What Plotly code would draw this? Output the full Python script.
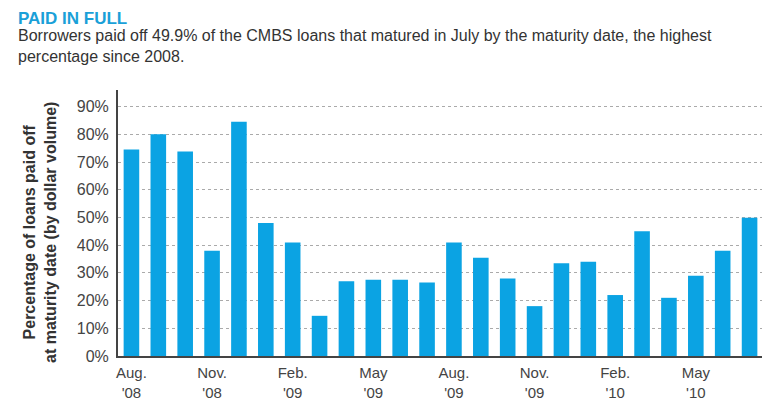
import plotly.graph_objects as go

months = ["Aug. '08","Sep. '08","Oct. '08","Nov. '08","Dec. '08","Jan. '09","Feb. '09","Mar. '09","Apr. '09","May '09","Jun. '09","Jul. '09",
          "Aug. '09","Sep. '09","Oct. '09","Nov. '09","Dec. '09","Jan. '10","Feb. '10","Mar. '10","Apr. '10","May '10","Jun. '10","Jul. '10"]
values = [74.5, 80, 73.8, 38, 84.5, 48, 41, 14.5, 27, 27.5, 27.5, 26.5,
          41, 35.5, 28, 18, 33.5, 34, 22, 45, 21, 29, 38, 49.9]
tick_vals = ["Aug. '08","Nov. '08","Feb. '09","May '09","Aug. '09","Nov. '09","Feb. '10","May '10"]
tick_text = ["Aug.<br>'08","Nov.<br>'08","Feb.<br>'09","May<br>'09","Aug.<br>'09","Nov.<br>'09","Feb.<br>'10","May<br>'10"]
y_ticks = [0,10,20,30,40,50,60,70,80,90]

F = "Liberation Sans Narrow, Arial Narrow, sans-serif"
T, B = 82, 52
fig = go.Figure(go.Bar(x=months, y=values, marker_color="#0ba3e3", marker_line_width=0))
fig.update_layout(
    width=770, height=400, margin=dict(l=110, r=15, t=T, b=B),
    plot_bgcolor="white", paper_bgcolor="white", bargap=0.42, showlegend=False,
    font=dict(family=F, color="#333", size=15),
    xaxis=dict(tickmode="array", tickvals=tick_vals, ticktext=tick_text, showgrid=False,
               showline=True, linecolor="#444", linewidth=2, ticks="", ticklabelstandoff=2,
               tickfont=dict(size=15, color="#444"), automargin=False),
    yaxis=dict(range=[0, 96], tickvals=y_ticks, ticktext=[f"{v}%" for v in y_ticks],
               showgrid=True, gridcolor="#aaa", griddash="dot", gridwidth=1,
               showline=True, linecolor="#444", linewidth=2, ticks="", ticklabelstandoff=4,
               tickfont=dict(size=16, color="#444"), zeroline=False, automargin=False),
)
pw, ph = 770-110-15, 400-T-B
def pann(text, px, py, **kw):
    fig.add_annotation(text=text, x=(px-110)/pw, y=((400-B)-py)/ph, xref="paper", yref="paper",
                       showarrow=False, **kw)
pann("<b>PAID IN FULL</b>", 8, 10, xanchor="left", yanchor="middle", font=dict(size=17, color="#1aa0d8"))
pann("Borrowers paid off 49.9% of the CMBS loans that matured in July by the maturity date, the highest<br>percentage since 2008.",
     8, 38, xanchor="left", yanchor="middle", align="left", font=dict(size=16, color="#333"))
pann("<b>Percentage of loans paid off<br>at maturity date (by dollar volume)</b>", 32, 225, textangle=-90,
     xanchor="center", yanchor="middle", font=dict(size=16, color="#333"))
fig.write_html("out.html")
